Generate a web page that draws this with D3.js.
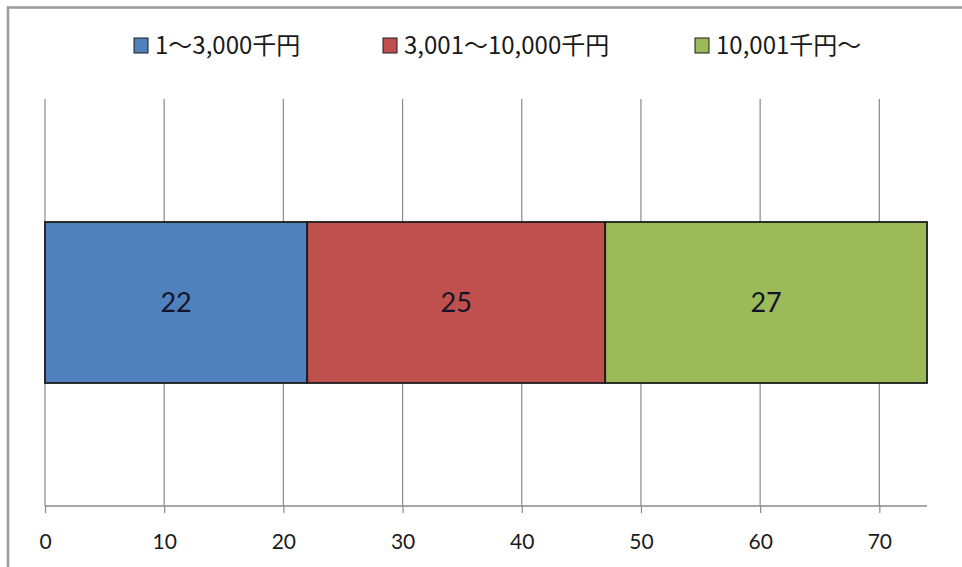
<!DOCTYPE html>
<html>
<head>
<meta charset="utf-8">
<script src="https://cdn.jsdelivr.net/npm/d3@7"></script>
<style>
  html, body { margin: 0; padding: 0; background: #fff; }
  svg { display: block; }
</style>
</head>
<body>
<svg id="chart" width="962" height="567"></svg>
<script>
// Amount bands and their counts, stacked in one horizontal bar
const categories = ["1～3,000千円", "3,001～10,000千円", "10,001千円～"];
const values = [22, 25, 27];
const colors = ["#4f81bd", "#c0504d", "#9bbb59"];
const tickValues = [0, 10, 20, 30, 40, 50, 60, 70];
const axisMax = 74;

const svg = d3.select("#chart");
const W = 962, H = 567;
const plot = { left: 45, right: 927, top: 99, bottom: 506 };

// Frame around the chart area
svg.append("rect")
  .attr("x", 8).attr("y", 7.5)
  .attr("width", W).attr("height", H)
  .attr("fill", "#fff")
  .attr("stroke", "#9a9a9a").attr("stroke-width", 2.5);

const x = d3.scaleLinear().domain([0, axisMax]).range([plot.left, plot.right]);

// Vertical gridlines
svg.append("g")
  .selectAll("line")
  .data(tickValues)
  .join("line")
  .attr("x1", d => x(d)).attr("x2", d => x(d))
  .attr("y1", plot.top).attr("y2", plot.bottom)
  .attr("stroke", "#8a8a8a").attr("stroke-width", 1.2);

// Bottom axis
const axis = svg.append("g")
  .attr("transform", `translate(0,${plot.bottom})`)
  .call(d3.axisBottom(x).tickValues(tickValues).tickSize(7).tickPadding(0).tickFormat(d3.format("d")));
axis.select(".domain").attr("stroke", "#8a8a8a").attr("stroke-width", 1.5)
  .attr("d", `M${plot.left},0H${plot.right}`);
axis.selectAll(".tick line").attr("stroke", "#8a8a8a").attr("stroke-width", 1.2);
axis.selectAll(".tick text")
  .attr("y", 35).attr("dy", "0.36em")
  .attr("font-family", "Lato, 'Noto Sans CJK JP', sans-serif")
  .attr("font-size", 21).attr("fill", "#1a1a1a");

// Stacked segments
let acc = 0;
const segs = values.map((v, i) => {
  const s = { name: categories[i], value: v, start: acc, end: acc + v, color: colors[i] };
  acc += v;
  return s;
});

const barTop = 222, barH = 161;

const bars = svg.append("g");
bars.selectAll("rect")
  .data(segs)
  .join("rect")
  .attr("x", d => x(d.start)).attr("width", d => x(d.end) - x(d.start))
  .attr("y", barTop).attr("height", barH)
  .attr("fill", d => d.color)
  .attr("stroke", "#1c1c1c").attr("stroke-width", 1.8);

bars.selectAll("text")
  .data(segs)
  .join("text")
  .attr("x", d => (x(d.start) + x(d.end)) / 2)
  .attr("y", barTop + barH / 2)
  .attr("dy", "0.36em")
  .attr("text-anchor", "middle")
  .attr("font-family", "Lato, 'Noto Sans CJK JP', sans-serif")
  .attr("font-size", 27)
  .attr("fill", "#141428")
  .text(d => d.value);

// Legend
const legendX = [134, 383, 695];
const legend = svg.append("g");
const items = legend.selectAll("g")
  .data(segs)
  .join("g")
  .attr("transform", (d, i) => `translate(${legendX[i]},45)`);
items.append("rect")
  .attr("x", 0).attr("y", -7).attr("width", 14).attr("height", 15)
  .attr("fill", d => d.color)
  .attr("stroke", "#1c1c1c").attr("stroke-width", 1);
items.append("text")
  .attr("x", 21).attr("y", 0).attr("dy", "0.36em")
  .attr("font-family", "'Noto Sans CJK JP', sans-serif")
  .attr("font-size", 24)
  .attr("fill", "#1a1a1a")
  .text(d => d.name);
</script>
</body>
</html>
